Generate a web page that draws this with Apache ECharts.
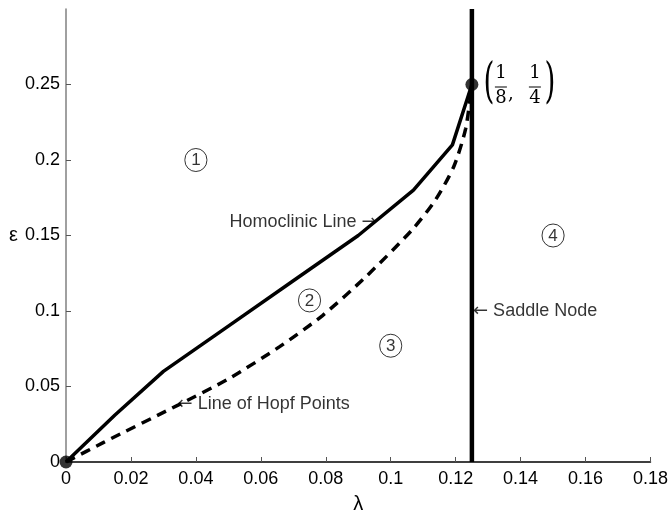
<!DOCTYPE html>
<html>
<head>
<meta charset="utf-8">
<script src="https://cdn.jsdelivr.net/npm/echarts@6/dist/echarts.min.js"></script>
<style>
html, body { margin: 0; padding: 0; background: #fff; }
#chart { width: 671px; height: 519px; }
</style>
</head>
<body>
<div id="chart"></div>
<script>
// homoclinic line (solid)
var homoLambda = [0, 0.015, 0.030, 0.050, 0.070, 0.090, 0.107, 0.119, 0.125]
var homoEps = [0, 0.031, 0.060, 0.090, 0.120, 0.150, 0.180, 0.210, 0.250]
// line of hopf points (dashed)
var hopfLambda = [0, 0.0116, 0.0345, 0.050, 0.0658, 0.079, 0.0925, 0.1067, 0.1139, 0.1195, 0.1231, 0.125]
var hopfEps = [0, 0.013, 0.0377, 0.055, 0.0764, 0.097, 0.123, 0.154, 0.174, 0.196, 0.221, 0.250]
// saddle node line
var saddleLambda = [0.125, 0.125]
var saddleEps = [0, 0.3]
// marked points
var dotLambda = [0, 0.125]
var dotEps = [0, 0.25]
// region labels
var regionNames = ['1', '2', '3', '4']
var regionLambda = [0.04, 0.075, 0.1, 0.15]
var regionEps = [0.2, 0.107, 0.077, 0.15]
// curve annotations (arrow tip positions)
var noteTexts = ['{t|Homoclinic Line }{a|→}', '{a|←}{t| Line of Hopf Points}', '{a|←}{t| Saddle Node}']
var noteLambda = [0.0958, 0.0342, 0.1252]
var noteEps = [0.159, 0.0383, 0.1]
var noteSide = ['left', 'right', 'right']
// axis ticks
var yTicks = [0, 0.05, 0.1, 0.15, 0.2, 0.25]

function pairs(xs, ys) {
  return xs.map(function (x, i) { return [x, ys[i]] })
}

var chart = echarts.init(document.getElementById('chart'))
var font = 'Liberation Sans, Arial, sans-serif'

chart.setOption({
  backgroundColor: '#fff',
  animation: false,
  grid: { left: 66, right: 19, top: 9, bottom: 48 },
  xAxis: {
    type: 'value',
    min: 0,
    max: 0.18,
    interval: 0.02,
    name: 'λ',
    nameLocation: 'middle',
    nameGap: 32,
    nameTextStyle: { fontSize: 20, color: '#000', fontFamily: font },
    axisLine: { show: true, onZero: false, lineStyle: { color: '#000', width: 1.5 } },
    axisTick: { show: true, inside: true, length: 5, lineStyle: { color: '#555' } },
    axisLabel: { fontSize: 18, color: '#000', fontFamily: font, margin: 8 },
    splitLine: { show: false }
  },
  yAxis: {
    type: 'value',
    min: 0,
    max: 0.3,
    interval: 0.05,
    name: 'ε',
    nameLocation: 'middle',
    nameRotate: 0,
    nameGap: 48,
    nameTextStyle: { fontSize: 20, color: '#000', fontFamily: font },
    axisLine: { show: true, onZero: false, lineStyle: { color: '#808080', width: 1.5 } },
    axisTick: { show: true, inside: true, length: 5, customValues: yTicks, lineStyle: { color: '#555' } },
    axisLabel: { fontSize: 18, color: '#000', fontFamily: font, margin: 6, customValues: yTicks },
    splitLine: { show: false }
  },
  series: [
    {
      name: 'Saddle Node',
      type: 'line',
      data: pairs(saddleLambda, saddleEps),
      symbol: 'none',
      lineStyle: { color: '#000', width: 4.5 }
    },
    {
      name: 'Line of Hopf Points',
      type: 'line',
      data: pairs(hopfLambda, hopfEps),
      symbol: 'none',
      smooth: 0.25,
      lineStyle: { color: '#000', width: 3.5, type: [10, 7] }
    },
    {
      name: 'Homoclinic Line',
      type: 'line',
      data: pairs(homoLambda, homoEps),
      symbol: 'none',
      lineStyle: { color: '#000', width: 3.5 }
    },
    {
      name: 'notes',
      type: 'scatter',
      symbolSize: 1,
      itemStyle: { color: 'rgba(0,0,0,0)' },
      data: pairs(noteLambda, noteEps).map(function (p, i) {
        return {
          value: p,
          label: {
            show: true, position: noteSide[i], distance: 0, formatter: noteTexts[i],
            rich: {
              t: { fontSize: 18, color: '#000', fontFamily: font },
              a: { fontSize: 18, color: '#000', fontFamily: 'DejaVu Sans, sans-serif' }
            }
          }
        }
      })
    },
    {
      name: 'regions',
      type: 'scatter',
      data: pairs(regionLambda, regionEps).map(function (p, i) {
        return { value: p, name: regionNames[i] }
      }),
      symbolSize: 1,
      itemStyle: { color: 'rgba(0,0,0,0)' },
      label: {
        show: true,
        position: 'inside',
        formatter: function (p) { return '{c|' + p.name + '}' },
        rich: {
          c: {
            fontSize: 17, color: '#000', fontFamily: font,
            width: 22, height: 22, lineHeight: 22, align: 'center',
            borderColor: '#000', borderWidth: 1, borderRadius: 12, padding: [1, 0, 0, 0]
          }
        }
      }
    },
    {
      name: 'points',
      type: 'scatter',
      data: pairs(dotLambda, dotEps),
      symbol: 'circle',
      symbolSize: 13,
      clip: false,
      itemStyle: { color: '#000' },
      z: 5
    }
  ]
})

// (1/8, 1/4) label next to the upper point
var p = chart.convertToPixel('grid', [dotLambda[1], dotEps[1]])
var serif = 'DejaVu Serif, Liberation Serif, serif'
function t(x, y, s, size) {
  return {
    type: 'text', x: x, y: y,
    style: { text: s, fontSize: size, fontFamily: serif, fill: '#000', align: 'center', verticalAlign: 'middle' }
  }
}
function bar(x, y, w) {
  return { type: 'rect', shape: { x: x, y: y, width: w, height: 1 }, style: { fill: '#000' } }
}
function paren(x, s) {
  return {
    type: 'text', x: x, y: 0, scaleY: 1.7,
    style: { text: s, fontSize: 28, fontFamily: serif, fill: '#000', align: 'center', verticalAlign: 'middle' }
  }
}
chart.setOption({
  graphic: [{
    type: 'group',
    x: p[0],
    y: p[1],
    children: [
      paren(17, '('),
      t(29, -11, '1', 18),
      bar(23, 2, 12),
      t(29, 14, '8', 18),
      t(39, 10, ',', 18),
      t(63, -11, '1', 18),
      bar(57, 2, 12),
      t(63, 14, '4', 18),
      paren(78, ')')
    ]
  }]
})
</script>
</body>
</html>
